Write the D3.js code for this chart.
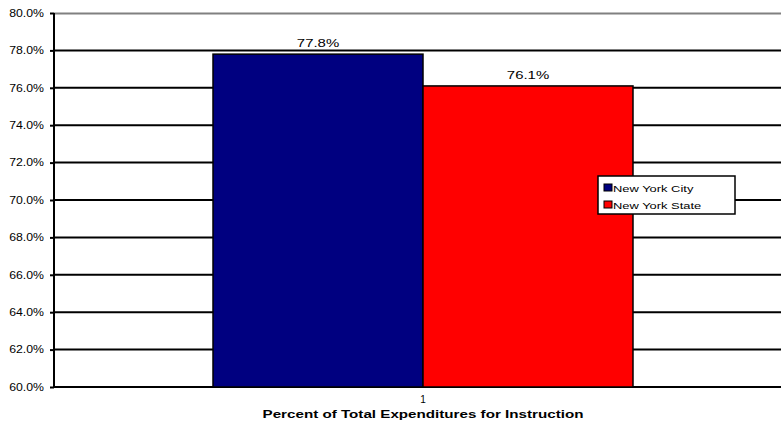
<!DOCTYPE html>
<html>
<head>
<meta charset="utf-8">
<script src="https://cdn.jsdelivr.net/npm/d3@7"></script>
<style>
  html, body { margin: 0; padding: 0; background: #fff; overflow: hidden; }
  svg { display: block; font-family: Arial, "Liberation Sans", sans-serif; }
</style>
</head>
<body>
<svg id="chart" width="781" height="421"></svg>
<script>
// Chart data
const categories = ["1"];
const seriesNames = ["New York City", "New York State"];
const seriesValues = [77.8, 76.1];
const seriesColors = ["#000080", "#FF0000"];
const yTicks = [60, 62, 64, 66, 68, 70, 72, 74, 76, 78, 80];
const xTitle = "Percent of Total Expenditures for Instruction";

// text in this chart is set in a horizontally widened Arial
const WIDE = 1.3;

const svg = d3.select("#chart");
const W = 781, H = 421;
const margin = { top: 13, right: -11, bottom: 34, left: 54 };
const plotW = W - margin.left - margin.right;
const plotH = H - margin.top - margin.bottom;

const y = d3.scaleLinear().domain([60, 80]).range([plotH, 0]);
const x0 = d3.scaleBand().domain(categories).range([0, plotW])
  .paddingInner(0).paddingOuter(0.3786);
const x1 = d3.scaleBand().domain(seriesNames).range([0, x0.bandwidth()]).padding(0);

const g = svg.append("g").attr("transform", `translate(${margin.left},${margin.top})`);

// top border of plot area
g.append("line")
  .attr("x1", 0).attr("x2", plotW).attr("y1", 0.5).attr("y2", 0.5)
  .attr("stroke", "#808080").attr("stroke-width", 2);

// horizontal gridlines
g.append("g").selectAll("line")
  .data(yTicks.filter(t => t !== 80))
  .join("line")
  .attr("x1", 0).attr("x2", plotW)
  .attr("y1", d => y(d)).attr("y2", d => y(d))
  .attr("stroke", "#000").attr("stroke-width", 2);

// bars
const rows = seriesNames.map((s, i) => ({ series: s, value: seriesValues[i], color: seriesColors[i] }));
const cat = g.append("g").attr("transform", `translate(${x0(categories[0])},0)`);
cat.selectAll("rect")
  .data(rows)
  .join("rect")
  .attr("x", d => x1(d.series))
  .attr("y", d => y(d.value))
  .attr("width", x1.bandwidth())
  .attr("height", d => y(60) - y(d.value))
  .attr("fill", d => d.color)
  .attr("stroke", "#000").attr("stroke-width", 1.5);

// value labels
cat.selectAll("text.val")
  .data(rows)
  .join("text")
  .attr("class", "val")
  .attr("transform", d => `translate(${x1(d.series) + x1.bandwidth() / 2},${y(d.value) - 7}) scale(${WIDE},1)`)
  .attr("text-anchor", "middle")
  .attr("font-size", 11.5)
  .attr("fill", "#000")
  .text(d => d.value.toFixed(1) + "%");

// y axis
const yAxis = d3.axisLeft(y).tickValues(yTicks).tickSize(4)
  .tickFormat(d => d.toFixed(1) + "%");
const ya = g.append("g").call(yAxis);
ya.select(".domain").attr("stroke", "#000").attr("stroke-width", 2)
  .attr("d", `M0,${plotH + 1}V0`);
ya.selectAll(".tick line").attr("stroke", "#000").attr("stroke-width", 2);
ya.selectAll(".tick text")
  .attr("x", 0)
  .attr("transform", "translate(-10,0) scale(1.23,1)")
  .attr("font-size", 10)
  .attr("font-family", "Arial, 'Liberation Sans', sans-serif")
  .attr("fill", "#000");

// x axis (category label)
const xAxis = d3.axisBottom(x0).tickSize(0);
const xa = g.append("g").attr("transform", `translate(0,${plotH})`).call(xAxis);
xa.select(".domain").remove();
xa.selectAll(".tick text")
  .attr("y", 9)
  .attr("font-size", 10)
  .attr("font-family", "Arial, 'Liberation Sans', sans-serif")
  .attr("fill", "#000");

// axis title
g.append("text")
  .attr("transform", `translate(${x0(categories[0]) + x0.bandwidth() / 2},${plotH + 30.5}) scale(1.38,1)`)
  .attr("text-anchor", "middle")
  .attr("font-size", 11)
  .attr("font-weight", "bold")
  .attr("fill", "#000")
  .text(xTitle);

// legend
const legend = svg.append("g").attr("transform", "translate(598,176)");
legend.append("rect")
  .attr("width", 137).attr("height", 38)
  .attr("fill", "#fff").attr("stroke", "#000").attr("stroke-width", 1.5);
const li = legend.selectAll("g.item")
  .data(rows)
  .join("g")
  .attr("class", "item")
  .attr("transform", (d, i) => `translate(6,${12 + i * 17})`);
li.append("rect")
  .attr("x", 0).attr("y", -4).attr("width", 8).attr("height", 7)
  .attr("fill", d => d.color).attr("stroke", "#000").attr("stroke-width", 1);
li.append("text")
  .attr("transform", `translate(9,3.5) scale(1.36,1)`)
  .attr("font-size", 9.5)
  .attr("fill", "#000")
  .text(d => d.series);
</script>
</body>
</html>
